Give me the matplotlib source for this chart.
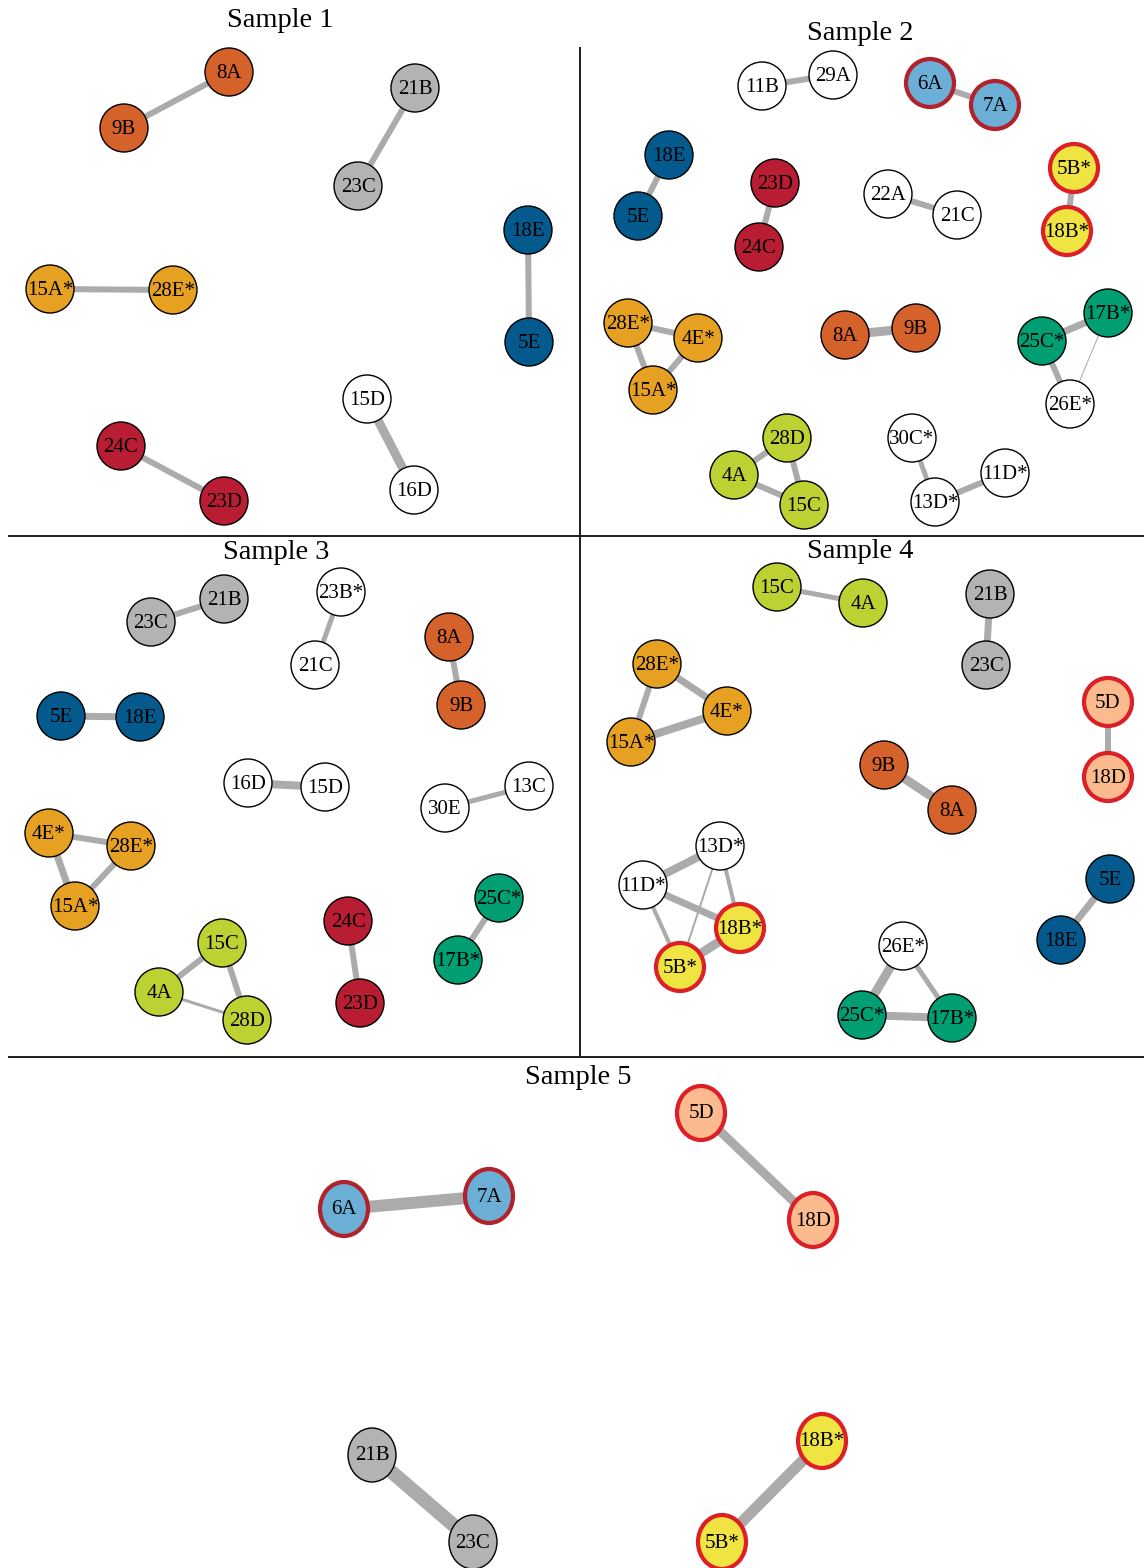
import matplotlib
matplotlib.use("Agg")
import matplotlib.pyplot as plt
from matplotlib.patches import Ellipse

plt.rcParams['font.family'] = ['Liberation Serif', 'DejaVu Serif']

# ---------------- data ----------------
titles = ["Sample 1", "Sample 2", "Sample 3", "Sample 4", "Sample 5"]
title_x = [280, 860, 276, 860, 578]
title_y = [20, 33, 552, 551, 1077]

# node layouts (pixel positions in the original layout)
s1_nodes = ["8A", "9B", "21B", "23C", "18E", "5E", "15A*", "28E*", "15D", "16D", "24C", "23D"]
s1_x = [229, 124, 415, 358, 528, 529, 50, 173, 367, 414, 121, 224]
s1_y = [72, 128, 88, 186, 230, 342, 289, 290, 399, 490, 446, 501]
s1_edges = [("8A", "9B", 6), ("21B", "23C", 6), ("18E", "5E", 6), ("15A*", "28E*", 6),
            ("15D", "16D", 9), ("24C", "23D", 6)]

s2_nodes = ["11B", "29A", "6A", "7A", "18E", "5E", "23D", "24C", "22A", "21C", "5B*", "18B*",
            "28E*", "4E*", "15A*", "8A", "9B", "25C*", "17B*", "26E*", "28D", "4A", "15C",
            "30C*", "13D*", "11D*"]
s2_x = [762, 833, 930, 995, 669, 638, 775, 759, 888, 957, 1074, 1067,
        628, 698, 653, 845, 916, 1042, 1108, 1070, 787, 734, 804, 912, 935, 1005]
s2_y = [86, 75, 83, 105, 155, 216, 183, 247, 194, 215, 168, 231,
        323, 338, 390, 335, 328, 341, 313, 404, 438, 475, 505, 438, 502, 473]
s2_edges = [("11B", "29A", 6), ("6A", "7A", 6), ("18E", "5E", 6), ("23D", "24C", 6),
            ("22A", "21C", 6), ("5B*", "18B*", 6), ("28E*", "4E*", 6), ("28E*", "15A*", 6),
            ("4E*", "15A*", 6), ("8A", "9B", 9), ("25C*", "17B*", 7), ("25C*", "26E*", 6),
            ("17B*", "26E*", 1), ("28D", "4A", 6), ("4A", "15C", 6), ("28D", "15C", 6),
            ("30C*", "13D*", 5), ("13D*", "11D*", 6)]

s3_nodes = ["23C", "21B", "23B*", "21C", "8A", "9B", "5E", "18E", "16D", "15D", "30E", "13C",
            "4E*", "28E*", "15A*", "15C", "4A", "28D", "24C", "23D", "25C*", "17B*"]
s3_x = [151, 224, 341, 315, 449, 461, 61, 140, 248, 325, 445, 529,
        49, 131, 75, 222, 159, 247, 348, 360, 499, 458]
s3_y = [622, 599, 592, 665, 637, 705, 716, 717, 783, 787, 808, 786,
        833, 846, 906, 943, 992, 1020, 921, 1003, 898, 960]
s3_edges = [("23C", "21B", 6), ("23B*", "21C", 5), ("8A", "9B", 6), ("5E", "18E", 7),
            ("16D", "15D", 8), ("30E", "13C", 5), ("4E*", "28E*", 6), ("4E*", "15A*", 7),
            ("28E*", "15A*", 6), ("15C", "4A", 6), ("15C", "28D", 6), ("4A", "28D", 3),
            ("24C", "23D", 6), ("25C*", "17B*", 6)]

s4_nodes = ["15C", "4A", "21B", "23C", "28E*", "4E*", "15A*", "5D", "18D", "9B", "8A",
            "13D*", "11D*", "18B*", "5B*", "5E", "18E", "26E*", "25C*", "17B*"]
s4_x = [777, 863, 990, 986, 657, 727, 631, 1108, 1108, 884, 952,
        720, 643, 740, 680, 1110, 1061, 903, 862, 952]
s4_y = [587, 603, 594, 665, 664, 711, 742, 702, 777, 765, 810,
        846, 885, 928, 967, 879, 940, 946, 1015, 1018]
s4_edges = [("15C", "4A", 5), ("21B", "23C", 7), ("28E*", "4E*", 7), ("28E*", "15A*", 6),
            ("4E*", "15A*", 8), ("5D", "18D", 6), ("9B", "8A", 9), ("13D*", "11D*", 8),
            ("13D*", "18B*", 4), ("13D*", "5B*", 2), ("11D*", "18B*", 7), ("11D*", "5B*", 4),
            ("18B*", "5B*", 9), ("5E", "18E", 7), ("26E*", "25C*", 9), ("26E*", "17B*", 5),
            ("25C*", "17B*", 8)]

s5_nodes = ["5D", "18D", "6A", "7A", "21B", "23C", "18B*", "5B*"]
s5_x = [701, 813, 344, 489, 372, 473, 822, 722]
s5_y = [1113, 1220, 1209, 1196, 1455, 1542, 1441, 1542]
s5_edges = [("5D", "18D", 9), ("6A", "7A", 12), ("21B", "23C", 14), ("18B*", "5B*", 11)]

# node fill colours by serotype group
fill_colors = {
    "8A": "#D5622A", "9B": "#D5622A",
    "21B": "#B3B3B3", "23C": "#B3B3B3",
    "18E": "#045A8D", "5E": "#045A8D",
    "15A*": "#E6A022", "28E*": "#E6A022", "4E*": "#E6A022",
    "24C": "#B81D33", "23D": "#B81D33",
    "28D": "#BDD132", "4A": "#BDD132", "15C": "#BDD132",
    "25C*": "#009E73", "17B*": "#009E73",
    "6A": "#6BAED6", "7A": "#6BAED6",
    "5B*": "#F0E442", "18B*": "#F0E442",
    "5D": "#FCBB8E", "18D": "#FCBB8E",
}
border_colors = {"6A": "#B2222A", "7A": "#B2222A",
                 "5B*": "#DD2027", "18B*": "#DD2027", "5D": "#DD2027", "18D": "#DD2027"}

samples = [
    (s1_nodes, s1_x, s1_y, s1_edges),
    (s2_nodes, s2_x, s2_y, s2_edges),
    (s3_nodes, s3_x, s3_y, s3_edges),
    (s4_nodes, s4_x, s4_y, s4_edges),
    (s5_nodes, s5_x, s5_y, s5_edges),
]
node_w = [48, 48, 48, 48, 48]
node_h = [48, 48, 48, 48, 54]

# ---------------- drawing ----------------
W, H = 1144, 1568
fig = plt.figure(figsize=(W / 100, H / 100), dpi=100)
ax = fig.add_axes([0, 0, 1, 1])
ax.set_xlim(0, W)
ax.set_ylim(H, 0)
ax.axis("off")

px = 0.72  # points per pixel at dpi 100

# frame lines
ax.plot([580, 580], [47, 1057], color="#222222", lw=2 * px, solid_capstyle="butt")
ax.plot([8, W], [536, 536], color="#222222", lw=2 * px, solid_capstyle="butt")
ax.plot([8, W], [1057, 1057], color="#222222", lw=2 * px, solid_capstyle="butt")

for i, (names, xs, ys, edges) in enumerate(samples):
    pos = {n: (x, y) for n, x, y in zip(names, xs, ys)}
    for a, b, w in edges:
        ax.plot([pos[a][0], pos[b][0]], [pos[a][1], pos[b][1]],
                color="#ABABAB", lw=w * px, solid_capstyle="butt", zorder=1)
    for n in names:
        x, y = pos[n]
        fc = fill_colors.get(n, "white")
        ec = border_colors.get(n, "black")
        lw = 4.2 * px if n in border_colors else 1.4 * px
        ax.add_patch(Ellipse((x, y), node_w[i], node_h[i], facecolor=fc,
                             edgecolor=ec, lw=lw, zorder=2))
        ax.text(x, y + 1, n, ha="center", va="center", fontsize=15,
                color="black", zorder=3)
    ax.text(title_x[i], title_y[i], titles[i], ha="center", va="center",
            fontsize=20.5, color="black")

fig.savefig("out.png", dpi=100)
